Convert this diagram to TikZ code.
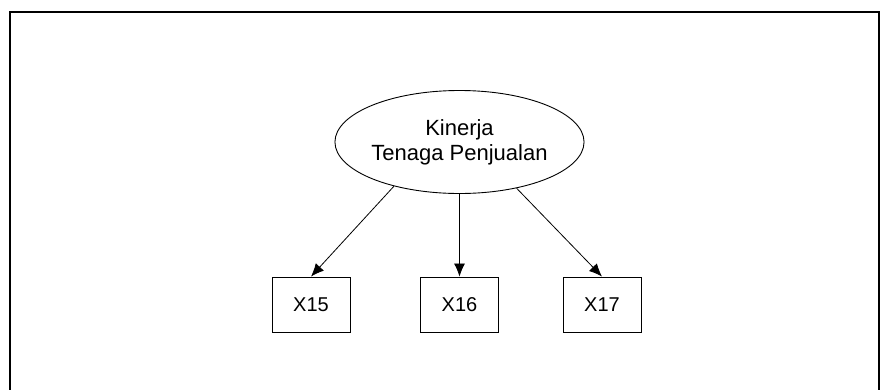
\documentclass[tikz,border=0pt]{standalone}
\usepackage{fontspec}
\setmainfont{Liberation Sans}
\usetikzlibrary{shapes.geometric,arrows.meta}
\begin{document}
\begin{tikzpicture}[x=1pt,y=-1pt,
  latent/.style={ellipse,draw,line width=0.9pt,minimum width=233pt,minimum height=103pt,
    inner sep=0pt,align=center,font=\fontsize{22}{25}\selectfont},
  indicator/.style={rectangle,draw,line width=0.9pt,minimum width=78pt,minimum height=55pt,
    inner sep=0pt,font=\fontsize{20}{24}\selectfont},
  link/.style={line width=0.8pt,-{Latex[length=13pt,width=11pt]}}]
  \useasboundingbox (0,0) rectangle (881,389);
  % outer frame, running off the lower edge
  \draw[line width=2.4pt] (10,391) -- (10,12) -- (879,12) -- (879,391);
  % latent construct
  \node[latent] (kt) at (459.5,142) {Kinerja\\Tenaga Penjualan};
  % observed indicators
  \node[indicator] (x15) at (311,304.5) {X15};
  \node[indicator] (x16) at (459.5,304.5) {X16};
  \node[indicator] (x17) at (602,304.5) {X17};
  % loadings
  \draw[link] (kt.214) -- (x15.north);
  \draw[link] (kt.270) -- (x16.north);
  \draw[link] (kt.321) -- (x17.north);
\end{tikzpicture}
\end{document}
